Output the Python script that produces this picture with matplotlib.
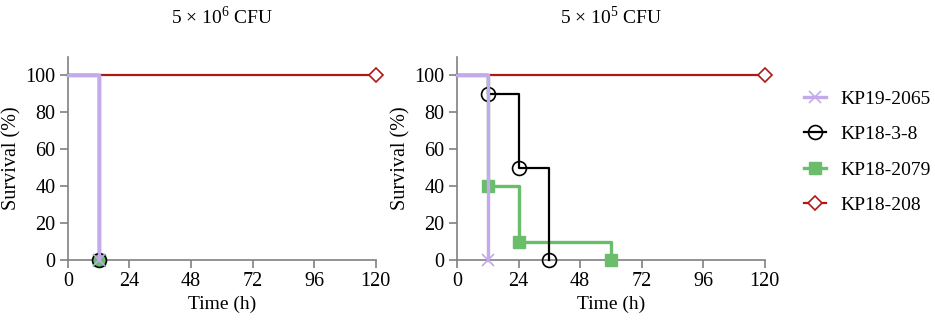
import matplotlib
matplotlib.use("Agg")
import matplotlib.pyplot as plt
from matplotlib.lines import Line2D

plt.rcParams['font.family'] = ['Liberation Serif', 'DejaVu Serif']
plt.rcParams['mathtext.fontset'] = 'custom'
plt.rcParams['mathtext.rm'] = 'Liberation Serif'

strains = ["KP19-2065", "KP18-3-8", "KP18-2079", "KP18-208"]
colors = ["#c3aaea", "#000000", "#6abd6a", "#b01818"]
markers = ["x", "o", "s", "D"]

# panel A: 5e6 CFU  (time, survival) step points; event markers
a_t = [[0, 12], [0, 12], [0, 12], [0, 120]]
a_s = [[100, 0], [100, 0], [100, 0], [100, 100]]
a_mt = [[12], [12], [12], [120]]
a_ms = [[0], [0], [0], [100]]

# panel B: 5e5 CFU
b_t = [[0, 12], [0, 12, 24, 36], [0, 12, 24, 60], [0, 120]]
b_s = [[100, 0], [100, 90, 50, 0], [100, 40, 10, 0], [100, 100]]
b_mt = [[12], [12, 24, 36], [12, 24, 60], [120]]
b_ms = [[0], [90, 50, 0], [40, 10, 0], [100]]

titles = ["5 × 10$^{6}$ CFU", "5 × 10$^{5}$ CFU"]
xticks = [0, 24, 48, 72, 96, 120]
yticks = [0, 20, 40, 60, 80, 100]

lws = [2.4, 1.6, 2.4, 1.6]
line_z = [6, 3, 2, 1]

fig = plt.figure(figsize=(9.35, 3.25), dpi=100)
ax1 = fig.add_axes([0.0727, 0.2, 0.329, 0.625])
ax2 = fig.add_axes([0.4888, 0.2, 0.329, 0.625])


def marker_kw(i):
    c = colors[i]
    if markers[i] == 'x':
        return dict(marker='x', ms=9, mew=1.2, mec=c, mfc=c)
    if markers[i] == 'o':
        return dict(marker='o', ms=10, mew=1.2, mfc='none', mec=c)
    if markers[i] == 's':
        return dict(marker='s', ms=8.5, mew=1.0, mfc=c, mec=c)
    return dict(marker='D', ms=7, mew=1.2, mfc='white', mec=c)


for ax, T, S, MT, MS, title in [(ax1, a_t, a_s, a_mt, a_ms, titles[0]),
                                 (ax2, b_t, b_s, b_mt, b_ms, titles[1])]:
    for i in range(4):
        ax.step(T[i], S[i], where='post', color=colors[i], lw=lws[i],
                clip_on=False, zorder=line_z[i])
        mz = {0: 7, 1: 5, 2: 4, 3: 4}[i]
        ax.plot(MT[i], MS[i], ls='none', clip_on=False, zorder=mz, **marker_kw(i))
    ax.set_xlim(0, 120)
    ax.set_ylim(0, 110)
    ax.set_xticks(xticks)
    ax.set_yticks(yticks)
    for s in ['top', 'right']:
        ax.spines[s].set_visible(False)
    for s in ['left', 'bottom']:
        ax.spines[s].set_color('#808080')
        ax.spines[s].set_linewidth(1.2)
    ax.tick_params(direction='out', length=6, width=1.2, color='#808080', labelsize=14.5, pad=3)
    ax.set_xlabel("Time (h)", fontsize=14, labelpad=3)
    ax.set_ylabel("Survival (%)", fontsize=14.5, labelpad=3)
    bb = ax.get_position()
    fig.text((bb.x0 + bb.x1) / 2, 1 - 17 / 325, title, fontsize=14, ha='center', va='center')

leg_handles = [Line2D([0], [0], color=colors[i], lw=lws[i], **marker_kw(i)) for i in range(4)]
fig.legend(leg_handles, strains, loc='center left', bbox_to_anchor=(0.860, 0.532),
           frameon=False, fontsize=14, handlelength=1.15, labelspacing=0.92,
           handletextpad=0.7, borderpad=0, borderaxespad=0)

fig.savefig("out.png", dpi=100)
